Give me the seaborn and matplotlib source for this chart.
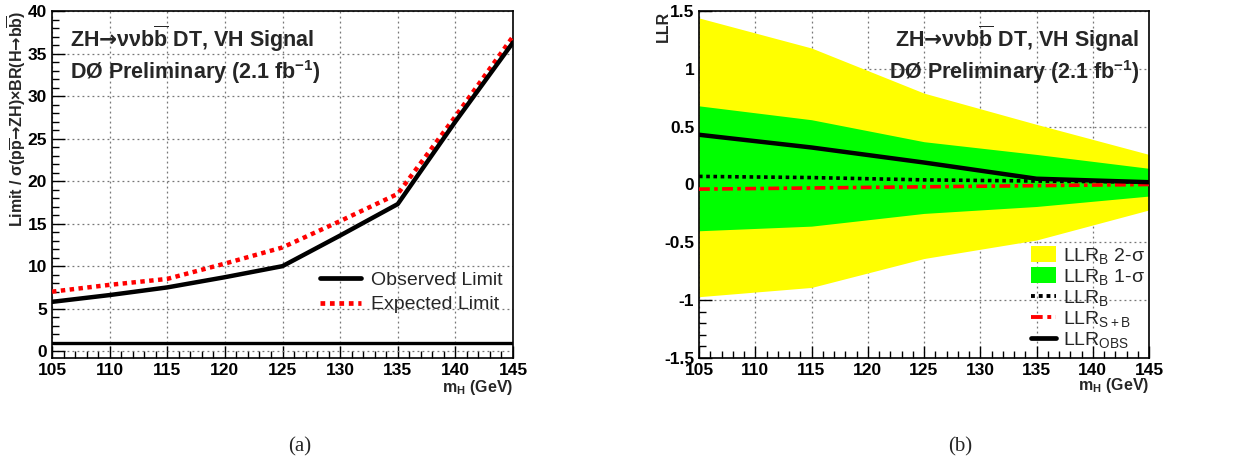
import numpy as np
import pandas as pd
import matplotlib
matplotlib.use("Agg")
import matplotlib.pyplot as plt
from matplotlib.ticker import MultipleLocator
from matplotlib.patches import Patch
from matplotlib.lines import Line2D
import seaborn as sns

# ---------------- data ----------------
mass = [105, 110, 115, 120, 125, 130, 135, 140, 145]
obs_limit = [5.8, 6.6, 7.5, 8.7, 10.0, 13.6, 17.3, 27.0, 36.3]
exp_limit = [7.0, 7.8, 8.5, 10.3, 12.2, 15.3, 18.5, 27.6, 37.0]

llr_mass = [105, 115, 125, 135, 145]
llr_2s_hi = [1.44, 1.18, 0.79, 0.52, 0.26]
llr_2s_lo = [-0.97, -0.89, -0.64, -0.48, -0.22]
llr_1s_hi = [0.68, 0.56, 0.37, 0.26, 0.14]
llr_1s_lo = [-0.40, -0.36, -0.25, -0.19, -0.10]
llr_b = [0.07, 0.06, 0.04, 0.03, 0.02]
llr_sb = [-0.04, -0.03, -0.02, -0.01, 0.00]
llr_obs = [0.43, 0.32, 0.19, 0.05, 0.02]

# ---------------- style ----------------
sns.set_style("ticks")
plt.rcParams['font.family'] = ['Liberation Sans', 'DejaVu Sans']
plt.rcParams['mathtext.fontset'] = 'custom'
plt.rcParams['mathtext.rm'] = 'Liberation Sans'
plt.rcParams['mathtext.bf'] = 'Liberation Sans:bold'
plt.rcParams['mathtext.it'] = 'Liberation Sans:italic'
plt.rcParams['mathtext.sf'] = 'DejaVu Sans:bold'

ARROW = r'$\mathsf{→}$'
BBAR = r'$\overline{\mathbf{b}}$'
PBAR = r'$\overline{\mathbf{p}}$'

fig = plt.figure(figsize=(12.36, 4.63), dpi=100)
W, H = 1236, 463
def axrect(x0, x1, y0, y1):
    return [x0 / W, 1 - y1 / H, (x1 - x0) / W, (y1 - y0) / H]

ax1 = fig.add_axes(axrect(52, 513, 11, 358))
ax2 = fig.add_axes(axrect(699, 1149, 11, 358))

def style_axis(ax, xmaj, xmin, ymaj, ymin):
    ax.set_axisbelow(True)
    ax.xaxis.set_major_locator(MultipleLocator(xmaj))
    ax.xaxis.set_minor_locator(MultipleLocator(xmin))
    ax.yaxis.set_major_locator(MultipleLocator(ymaj))
    ax.yaxis.set_minor_locator(MultipleLocator(ymin))
    ax.tick_params(which='both', direction='in', top=False, right=False,
                   width=1.0, colors='black', labelsize=12.5)
    ax.tick_params(which='major', length=9)
    ax.tick_params(which='minor', length=5)
    ax.grid(True, which='major', linestyle=(0, (1.5, 2.5)), color='#777777', linewidth=0.9)
    for s in ax.spines.values():
        s.set_color('black')
        s.set_linewidth(1.2)
    ax.set_xlabel('')
    ax.set_ylabel('')

def bold_ticks(ax):
    for lab in ax.get_xticklabels() + ax.get_yticklabels():
        lab.set_fontweight('bold')

title1 = 'ZH' + ARROW + 'νν' + 'b' + BBAR + ' DT, VH Signal'
title2 = r'DØ Preliminary (2.1 fb$^{\mathbf{-1}}$)'

# ---------------- panel (a) ----------------
df_a = pd.DataFrame({'mass': mass, 'obs': obs_limit, 'exp': exp_limit})
ax1.axhline(1.0, color='black', lw=2.4, zorder=2)
sns.lineplot(data=df_a, x='mass', y='exp', ax=ax1, color='#ff0000', lw=3.2,
             linestyle=(0, (1, 1)), zorder=3)
sns.lineplot(data=df_a, x='mass', y='obs', ax=ax1, color='black', lw=3.2, zorder=4)
ax1.set_xlim(105, 145)
ax1.set_ylim(-0.8, 40)
style_axis(ax1, 5, 1, 5, 1)
ax1.set_yticks([0, 5, 10, 15, 20, 25, 30, 35, 40])
bold_ticks(ax1)

ax1.text(0.04, 0.92, title1, transform=ax1.transAxes,
         fontsize=15.5, fontweight='bold', va='center', ha='left')
ax1.text(0.04, 0.825, title2, transform=ax1.transAxes,
         fontsize=15.5, fontweight='bold', va='center', ha='left')
fig.text(17 / W, 1 - 11 / H,
         'Limit / σ(p' + PBAR + ARROW + 'ZH)×BR(H' + ARROW + 'b' + BBAR + ')',
         rotation=90, ha='center', va='top', fontsize=11.5, fontweight='bold')
fig.text(513 / W, 1 - 378 / H, r'm$_{\mathbf{H}}$ (GeV)', ha='right', va='top',
         fontsize=11.5, fontweight='bold')

h1 = [Line2D([], [], color='black', lw=3.4),
      Line2D([], [], color='#ff0000', lw=3.4, linestyle=(0, (1, 1)))]
ax1.legend(h1, ['Observed Limit', 'Expected Limit'], loc='upper left',
           bbox_to_anchor=(0.565, 0.272), frameon=False, fontsize=14,
           handlelength=2.1, handletextpad=0.5, labelspacing=0.35, borderaxespad=0)

# ---------------- panel (b) ----------------
ax2.fill_between(llr_mass, llr_2s_lo, llr_2s_hi, color='#ffff00', lw=0, zorder=1)
ax2.fill_between(llr_mass, llr_1s_lo, llr_1s_hi, color='#00ff00', lw=0, zorder=1.1)
df_b = pd.DataFrame({'mass': llr_mass, 'b': llr_b, 'sb': llr_sb, 'obs': llr_obs})
sns.lineplot(data=df_b, x='mass', y='b', ax=ax2, color='black', lw=2.6,
             linestyle=(0, (1, 1)), zorder=3)
sns.lineplot(data=df_b, x='mass', y='sb', ax=ax2, color='#ff0000', lw=2.6,
             linestyle=(0, (3, 1.2, 1, 1.2)), zorder=3)
sns.lineplot(data=df_b, x='mass', y='obs', ax=ax2, color='black', lw=3.2, zorder=4)
ax2.set_xlim(105, 145)
ax2.set_ylim(-1.5, 1.5)
style_axis(ax2, 5, 1, 0.5, 0.1)
ax2.set_yticks([-1.5, -1, -0.5, 0, 0.5, 1, 1.5])
ax2.set_yticklabels(['-1.5', '-1', '-0.5', '0', '0.5', '1', '1.5'])
bold_ticks(ax2)

ax2.text(0.978, 0.92, title1, transform=ax2.transAxes,
         fontsize=15.5, fontweight='bold', va='center', ha='right')
ax2.text(0.978, 0.825, title2, transform=ax2.transAxes,
         fontsize=15.5, fontweight='bold', va='center', ha='right')
fig.text(663 / W, 1 - 11 / H, 'LLR', rotation=90, ha='center', va='top',
         fontsize=11.5, fontweight='bold')
fig.text(1149 / W, 1 - 376 / H, r'm$_{\mathbf{H}}$ (GeV)', ha='right', va='top',
         fontsize=11.5, fontweight='bold')

h2 = [Patch(facecolor='#ffff00', edgecolor='none'),
      Patch(facecolor='#00ff00', edgecolor='none'),
      Line2D([], [], color='black', lw=2.8, linestyle=(0, (1, 1))),
      Line2D([], [], color='#ff0000', lw=2.8, linestyle=(0, (3, 1.2, 1, 1.2))),
      Line2D([], [], color='black', lw=3.4)]
l2 = [r'LLR$_{\mathrm{B}}$ 2-σ', r'LLR$_{\mathrm{B}}$ 1-σ', r'LLR$_{\mathrm{B}}$',
      r'LLR$_{\mathrm{S+B}}$', r'LLR$_{\mathrm{OBS}}$']
ax2.legend(h2, l2, loc='upper left', bbox_to_anchor=(0.72, 0.345), frameon=False,
           fontsize=14, handlelength=1.3, handleheight=0.9, handletextpad=0.35,
           labelspacing=0.05, borderaxespad=0)

# ---------------- captions ----------------
fig.text(300 / W, 1 - 447 / H, '(a)', ha='center', va='center', fontsize=15,
         family=['Liberation Serif', 'DejaVu Serif'])
fig.text(960 / W, 1 - 447 / H, '(b)', ha='center', va='center', fontsize=15,
         family=['Liberation Serif', 'DejaVu Serif'])

fig.savefig('out.png', dpi=100)
